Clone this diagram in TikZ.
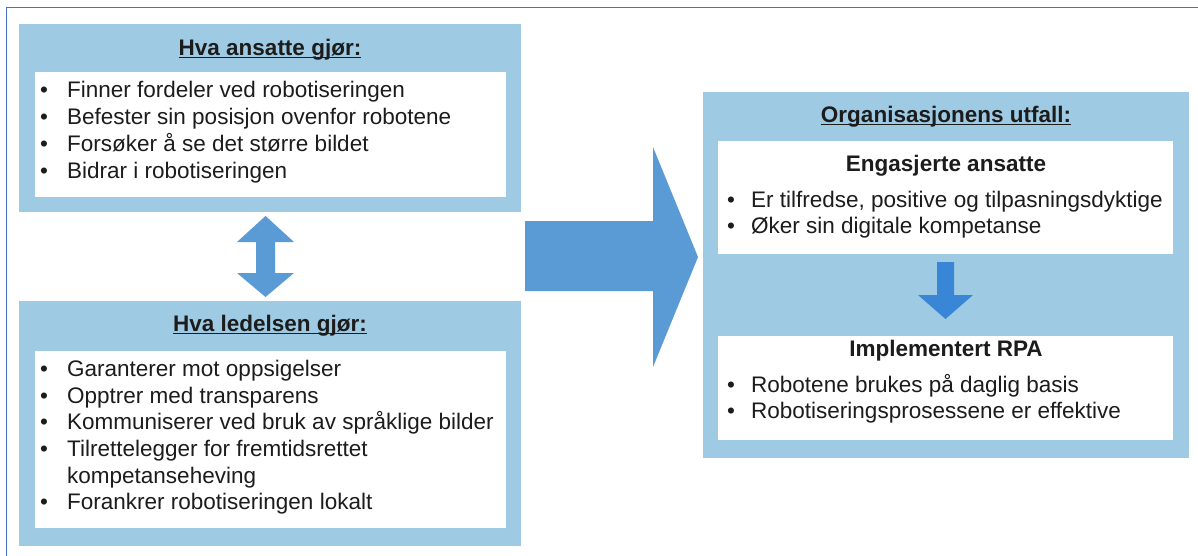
\documentclass[tikz,border=0pt]{standalone}
\usepackage{fontspec}
\setmainfont{Liberation Sans}
\usetikzlibrary{fit}
\definecolor{boxblue}{RGB}{158,203,227}
\definecolor{arrowblue}{RGB}{91,155,213}
\definecolor{darkarrow}{RGB}{57,134,214}
\definecolor{frameblue}{RGB}{68,114,196}
\definecolor{txtcol}{RGB}{28,28,28}
\newcommand\myul[1]{\setbox0\hbox{#1}\rlap{\rule[-2.8pt]{\wd0}{1.3pt}}\box0}
\begin{document}
\begin{tikzpicture}[x=1pt,y=-1pt,
  panel/.style={fill=boxblue, draw=none, inner sep=0pt},
  whitebox/.style={fill=white, draw=none, inner sep=0pt},
  txt/.style={font=\fontsize{22.5}{27}\selectfont, text=txtcol, inner sep=0pt, anchor=base west},
  bul/.style={font=\fontsize{22.5}{27}\selectfont, text=txtcol, inner sep=0pt, anchor=base},
  ttl/.style={font=\fontsize{22.5}{27}\selectfont\bfseries, text=txtcol, inner sep=0pt, anchor=base},
  blockarrow/.style={fill=arrowblue, draw=none}]
\useasboundingbox (0,0) rectangle (1198,555);
\clip (0,0) rectangle (1198,555);
\fill[white] (0,0) rectangle (1198,555);
% frame
\draw[frameblue, line width=1.6pt] (6.5,570) -- (6.5,7.5) -- (1210,7.5);

% panels
\node[panel, fit={(19,24)(521,212)}] (A) {};
\node[whitebox, fit={(35,72)(506,197)}] (Aw) {};
\node[panel, fit={(19,301)(521,546)}] (L) {};
\node[whitebox, fit={(35,351)(506,528)}] (Lw) {};
\node[panel, fit={(703,92)(1189,458)}] (O) {};
\node[whitebox, fit={(718,141)(1173,254)}] (E) {};
\node[whitebox, fit={(718,336)(1173,440)}] (R) {};

% arrows
\fill[blockarrow] (525,221) -- (653,221) -- (653,147) -- (698,257) -- (653,367) -- (653,291) -- (525,291) -- cycle;
\fill[blockarrow] (265.5,216) -- (294,242) -- (275,242) -- (275,273) -- (294,273) -- (265.5,297) -- (237,273) -- (256,273) -- (256,242) -- (237,242) -- cycle;
\fill[darkarrow] (937,262) -- (954,262) -- (954,295) -- (973,295) -- (945.5,319) -- (918,295) -- (937,295) -- cycle;

% left top
\node[ttl] (At) at (270,55) {\myul{Hva ansatte gjør:}};
\node[bul] (Ab1) at (44,97) {•};  \node[txt] (A1) at (67,97) {Finner fordeler ved robotiseringen};
\node[bul] (Ab2) at (44,124) {•}; \node[txt] (A2) at (67,124) {Befester sin posisjon ovenfor robotene};
\node[bul] (Ab3) at (44,151) {•}; \node[txt] (A3) at (67,151) {Forsøker å se det større bildet};
\node[bul] (Ab4) at (44,178) {•}; \node[txt] (A4) at (67,178) {Bidrar i robotiseringen};

% left bottom
\node[ttl] (Lt) at (270,331) {\myul{Hva ledelsen gjør:}};
\node[bul] (Lb1) at (44,376) {•}; \node[txt] (L1) at (67,376) {Garanterer mot oppsigelser};
\node[bul] (Lb2) at (44,403) {•}; \node[txt] (L2) at (67,403) {Opptrer med transparens};
\node[bul] (Lb3) at (44,429) {•}; \node[txt] (L3) at (67,429) {Kommuniserer ved bruk av språklige bilder};
\node[bul] (Lb4) at (44,456) {•}; \node[txt] (L4) at (67,456) {Tilrettelegger for fremtidsrettet};
\node[txt] (L4b) at (67,483) {kompetanseheving};
\node[bul] (Lb5) at (44,509) {•}; \node[txt] (L5) at (67,509) {Forankrer robotiseringen lokalt};

% right
\node[ttl] (Ot) at (946,122) {\myul{Organisasjonens utfall:}};
\node[ttl] (Et) at (946,171) {Engasjerte ansatte};
\node[bul] (Eb1) at (731,207) {•}; \node[txt] (E1) at (751,207) {Er tilfredse, positive og tilpasningsdyktige};
\node[bul] (Eb2) at (731,233) {•}; \node[txt] (E2) at (751,233) {Øker sin digitale kompetanse};
\node[ttl] (Rt) at (946,356) {Implementert RPA};
\node[bul] (Rb1) at (731,392) {•}; \node[txt] (R1) at (751,392) {Robotene brukes på daglig basis};
\node[bul] (Rb2) at (731,418) {•}; \node[txt] (R2) at (751,418) {Robotiseringsprosessene er effektive};
\end{tikzpicture}
\end{document}
